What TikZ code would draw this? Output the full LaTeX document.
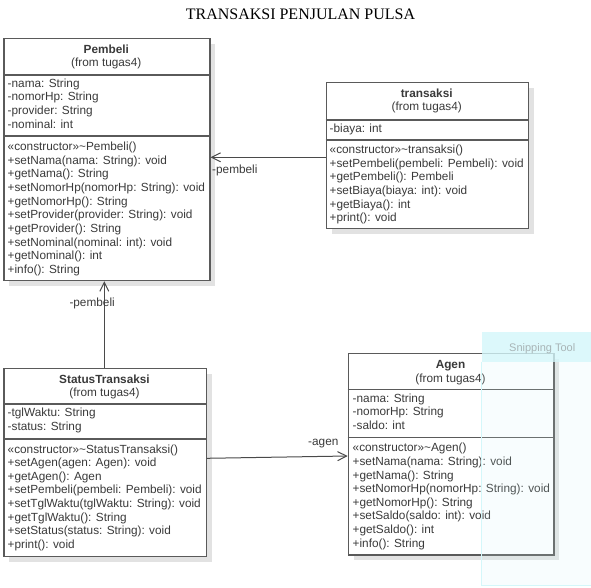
\documentclass[tikz,border=0pt]{standalone}
\usepackage{fontspec}
\setmainfont{Liberation Serif}
\newfontfamily\umlfont{Liberation Sans}
\usetikzlibrary{arrows.meta,shadows}
\definecolor{shadowc}{HTML}{E2E2E2}
\definecolor{linec}{HTML}{5A5A5A}
\definecolor{assocc}{HTML}{4A4A4A}
\definecolor{txtc}{HTML}{3A3A3A}
\definecolor{snipc}{HTML}{D4F7FA}
\definecolor{sniptxt}{HTML}{A8B4B6}
\tikzset{
  umltext/.style={anchor=base west, inner sep=0pt, font=\umlfont\fontsize{11.8}{13.65}\selectfont, text=txtc},
  umlhead/.style={anchor=base, inner sep=0pt, font=\umlfont\fontsize{11.8}{13.65}\selectfont, text=txtc},
  umlbold/.style={umlhead, font=\umlfont\bfseries\fontsize{11.8}{13.65}\selectfont},
  classbox/.style={draw=linec, fill=white, line width=1.2pt, anchor=north west, inner sep=0pt,
    drop shadow={shadow xshift=5.5pt, shadow yshift=-5.5pt, fill=shadowc, opacity=1}},
  divider/.style={draw=linec, line width=1.1pt},
  assoc/.style={draw=assocc, line width=1pt, -{Straight Barb[length=9pt,width=9pt]}},
}
\newcommand\umllines[4]{\foreach \umlline [count=\umlidx] in {#4} {\node[umltext] (#1\umlidx) at (#2,{#3+13.65*(\umlidx-1)}) {\umlline};}}
\begin{document}
\begin{tikzpicture}[x=1pt,y=-1pt]
\useasboundingbox[fill=white] (0,0) rectangle (591,588);
% title
\node[anchor=base, inner sep=0pt, font=\fontsize{16}{16}\selectfont] (title) at (300.5,20) {TRANSAKSI PENJULAN PULSA};
% Pembeli
\node[classbox, minimum width=206pt, minimum height=242pt] (pembeli) at (3.3,38) {};
\draw[divider] (3.3,75) -- (209.3,75);
\draw[divider] (3.3,136) -- (209.3,136);
\node[umlbold] (pembeli-name) at (106.3,54) {Pembeli};
\node[umlhead] (pembeli-from) at (106.3,67) {(from tugas4)};
\umllines{pa}{7.5}{87.3}{{-nama: String},{-nomorHp: String},{-provider: String},{-nominal: int}}
\umllines{pm}{7.5}{150.7}{{«constructor»\textasciitilde Pembeli()},{+setNama(nama: String): void},{+getNama(): String},{+setNomorHp(nomorHp: String): void},{+getNomorHp(): String},{+setProvider(provider: String): void},{+getProvider(): String},{+setNominal(nominal: int): void},{+getNominal(): int},{+info(): String}}
% transaksi
\node[classbox, minimum width=202pt, minimum height=146pt] (trans) at (325.7,81.7) {};
\draw[divider] (325.7,120) -- (527.7,120);
\draw[divider] (325.7,140) -- (527.7,140);
\node[umlbold] (trans-name) at (426.7,97.5) {transaksi};
\node[umlhead] (trans-from) at (426.7,110.7) {(from tugas4)};
\umllines{ta}{329.5}{132.3}{{-biaya: int}}
\umllines{tm}{329.5}{153.5}{{«constructor»\textasciitilde transaksi()},{+setPembeli(pembeli: Pembeli): void},{+getPembeli(): Pembeli},{+setBiaya(biaya: int): void},{+getBiaya(): int},{+print(): void}}
% StatusTransaksi
\node[classbox, minimum width=202.4pt, minimum height=188pt] (status) at (3.3,367.7) {};
\draw[divider] (3.3,404) -- (205.7,404);
\draw[divider] (3.3,439) -- (205.7,439);
\node[umlbold] (status-name) at (104.5,383.5) {StatusTransaksi};
\node[umlhead] (status-from) at (104.5,396.7) {(from tugas4)};
\umllines{sa}{7.5}{416.5}{{-tglWaktu: String},{-status: String}}
\umllines{sm}{7.5}{453}{{«constructor»\textasciitilde StatusTransaksi()},{+setAgen(agen: Agen): void},{+getAgen(): Agen},{+setPembeli(pembeli: Pembeli): void},{+setTglWaktu(tglWaktu: String): void},{+getTglWaktu(): String},{+setStatus(status: String): void},{+print(): void}}
% Agen
\node[classbox, minimum width=205.6pt, minimum height=201.6pt] (agen) at (347.7,352.7) {};
\draw[divider] (347.7,389.3) -- (553.3,389.3);
\draw[divider] (347.7,437.7) -- (553.3,437.7);
\node[umlbold] (agen-name) at (450.5,368.5) {Agen};
\node[umlhead] (agen-from) at (450.5,382.5) {(from tugas4)};
\umllines{aa}{352.5}{402.3}{{-nama: String},{-nomorHp: String},{-saldo: int}}
\umllines{am}{352.5}{451.7}{{«constructor»\textasciitilde Agen()},{+setNama(nama: String): void},{+getNama(): String},{+setNomorHp(nomorHp: String): void},{+getNomorHp(): String},{+setSaldo(saldo: int): void},{+getSaldo(): int},{+info(): String}}
% connectors
\coordinate (y1) at (0,157.3);
\draw[assoc] (trans.west |- y1) -- (pembeli.east |- y1);
\node[umltext] (lab1) at (212,174) {-pembeli};
\coordinate (x2) at (104.3,0);
\draw[assoc] (status.north -| x2) -- (pembeli.south -| x2);
\node[umltext] (lab2) at (69.3,306.5) {-pembeli};
\coordinate (y3a) at (0,458.3);
\coordinate (y3b) at (0,456);
\draw[assoc] (status.east |- y3a) -- (agen.west |- y3b);
\node[umltext] (lab3) at (308,445) {-agen};
% snipping tool overlay
\fill[snipc, opacity=0.15] (481.7,361.7) rectangle (591,585);
\draw[snipc, line width=0.6pt] (481.7,361.7) -- (481.7,585) -- (591,585);
\fill[snipc, opacity=0.8] (481.7,331.7) rectangle (591,361.7);
\node[anchor=base west, inner sep=0pt, font=\umlfont\fontsize{11}{11}\selectfont, text=sniptxt] (snip) at (509,351.5) {Snipping Tool};
\end{tikzpicture}
\end{document}
